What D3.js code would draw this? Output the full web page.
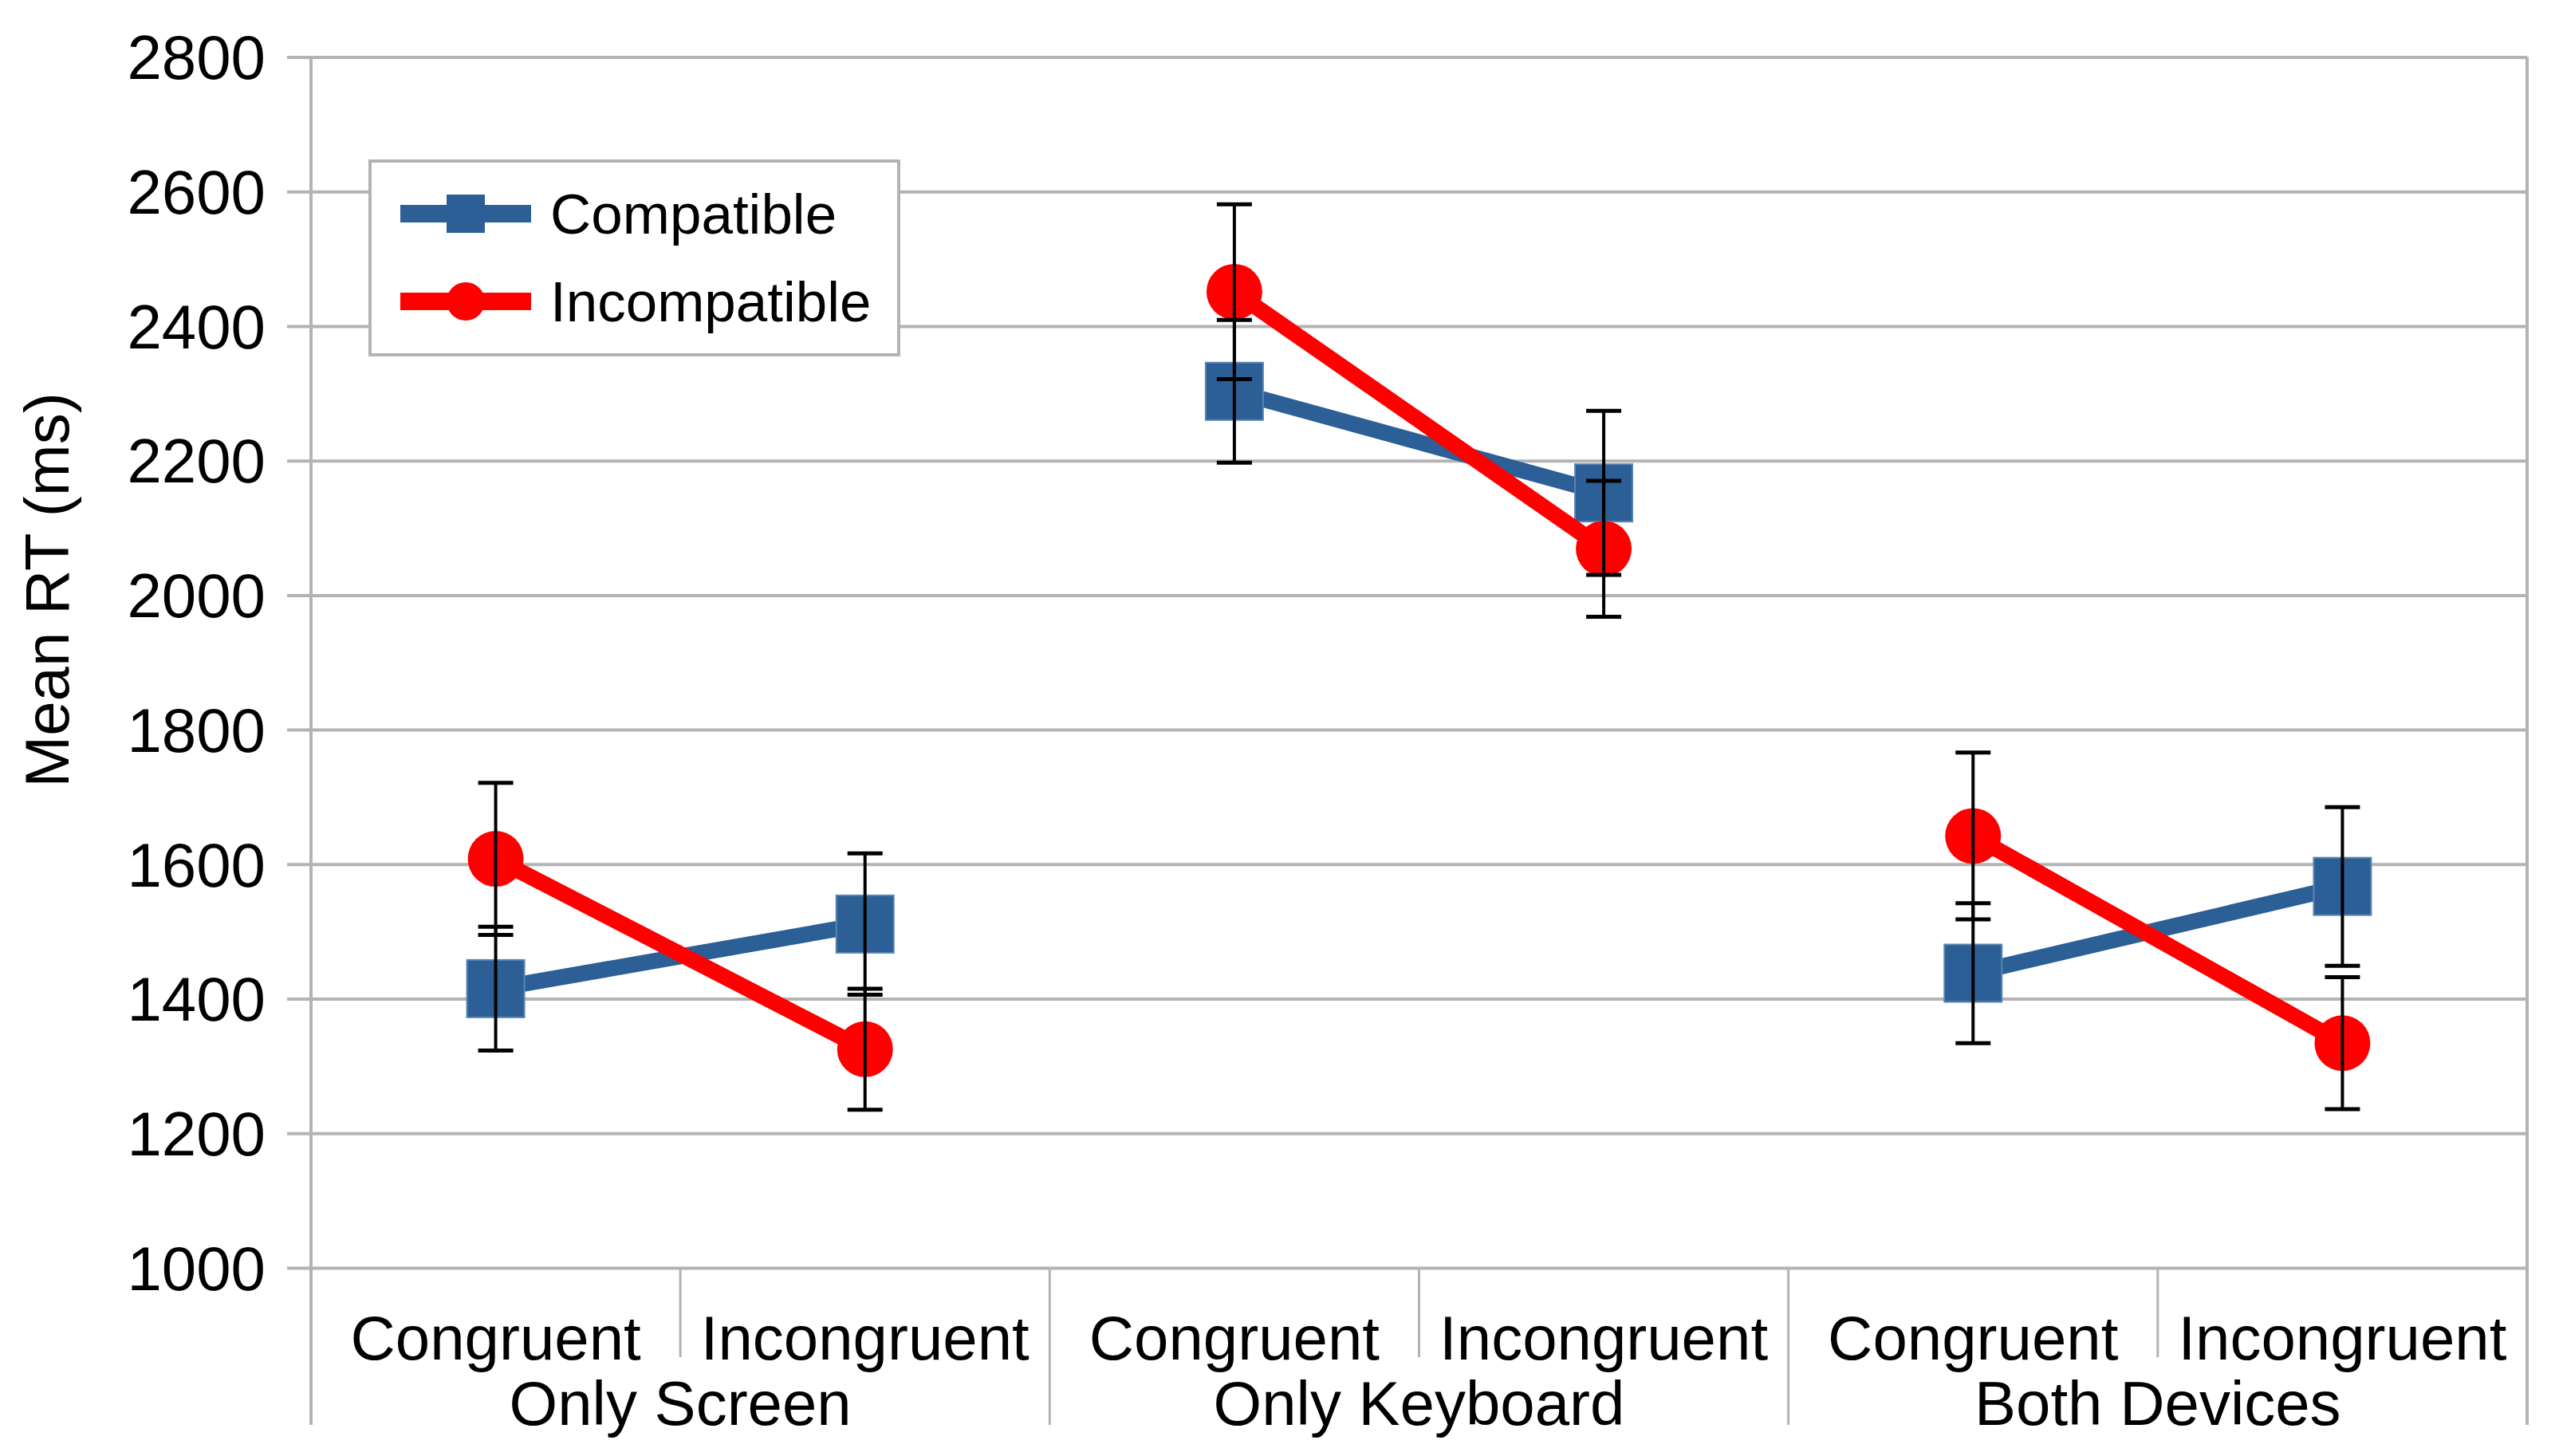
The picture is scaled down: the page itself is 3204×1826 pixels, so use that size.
<!DOCTYPE html>
<html>
<head>
<meta charset="utf-8">
<script src="https://cdn.jsdelivr.net/npm/d3@7"></script>
<style>
body { margin:0; background:#ffffff; }
text { font-family:"Liberation Sans", Arial, sans-serif; fill:#000000; }
</style>
</head>
<body>
<svg id="chart"></svg>
<script>
// categories of the x axis
var groups = ["Only Screen","Only Keyboard","Both Devices"];
var conditions = ["Congruent","Incongruent"];
var yTicks = [1000,1200,1400,1600,1800,2000,2200,2400,2600,2800];

// mean RT per group/condition, in order of the x axis
var compatible = [1415,1511,2303,2152,1438,1567];
var compatibleErr = [92,105,106,122,104,118];
var incompatible = [1608,1325,2451,2069,1642,1334];
var incompatibleErr = [113,90,130,101,124,98];

var seriesNames = ["Compatible","Incompatible"];
var seriesColors = ["#2c5f96","#ff0000"];

var screen = {width:3204, height:1826};
var margins = {top:71.5, left:390, right:35, bottom:236};
var graph = {
    width:screen.width-margins.left-margins.right,
    height:screen.height-margins.top-margins.bottom
};
var gridColor = "#b3b3b3";

var svg = d3.select("#chart")
    .attr("width",screen.width)
    .attr("height",screen.height);

// one key per point along the x axis
var keys = [];
groups.forEach(function(g){
    conditions.forEach(function(c){ keys.push(g+"|"+c); });
});

var xScale = d3.scaleBand()
    .domain(keys)
    .range([0,graph.width]);
var yScale = d3.scaleLinear()
    .domain([1000,2800])
    .range([graph.height,0]);
var cx = function(i){ return xScale(keys[i])+xScale.bandwidth()/2; };

var g = svg.append("g")
    .attr("transform","translate("+margins.left+","+margins.top+")");

// horizontal grid lines plus little ticks left of the axis
var yAxis = d3.axisLeft(yScale)
    .tickValues(yTicks)
    .tickSize(-graph.width)
    .tickPadding(57)
    .tickFormat(d3.format("d"));
var ya = g.append("g").call(yAxis);
ya.select(".domain").remove();
ya.selectAll(".tick line")
    .attr("x1",-30)
    .attr("stroke",gridColor)
    .attr("stroke-width",4);
ya.selectAll(".tick text")
    .style("font-size","78px")
    .attr("dy","0.35em");

// axis frame lines (left and right run down through the label area)
var bottomEdge = 1787-margins.top;
[0,graph.width].forEach(function(x){
    g.append("line")
        .attr("x1",x).attr("x2",x)
        .attr("y1",0).attr("y2",bottomEdge)
        .attr("stroke",gridColor).attr("stroke-width",4);
});

// separators under the x axis
keys.forEach(function(k,i){
    if(i==0) return;
    g.append("line")
        .attr("x1",xScale(k)).attr("x2",xScale(k))
        .attr("y1",graph.height)
        .attr("y2",i%2==0 ? bottomEdge : 1702-margins.top)
        .attr("stroke",gridColor).attr("stroke-width",3);
});

// condition labels and group labels
g.selectAll(".cond")
    .data(keys)
    .enter()
    .append("text")
    .attr("x",function(d,i){ return cx(i); })
    .attr("y",1705-margins.top)
    .attr("text-anchor","middle")
    .style("font-size","78px")
    .text(function(d){ return d.split("|")[1]; });

g.selectAll(".grp")
    .data(groups)
    .enter()
    .append("text")
    .attr("x",function(d,i){ return xScale(keys[i*2])+xScale.bandwidth(); })
    .attr("y",1787-margins.top)
    .attr("text-anchor","middle")
    .style("font-size","78px")
    .text(function(d){ return d; });

// y axis title
svg.append("text")
    .attr("transform","translate(86,740) rotate(-90)")
    .attr("text-anchor","middle")
    .style("font-size","78px")
    .text("Mean RT (ms)");

// draws the two line segments per group
var drawSeries = function(values,color)
{
    groups.forEach(function(grp,gi){
        var pair = values.slice(gi*2,gi*2+2);
        g.append("line")
            .attr("x1",cx(gi*2)).attr("x2",cx(gi*2+1))
            .attr("y1",yScale(pair[0])).attr("y2",yScale(pair[1]))
            .attr("stroke",color)
            .attr("stroke-width",20);
    });
}

drawSeries(compatible,seriesColors[0]);
g.selectAll(".sq")
    .data(compatible)
    .enter()
    .append("rect")
    .attr("x",function(d,i){ return cx(i)-36; })
    .attr("y",function(d){ return yScale(d)-36; })
    .attr("width",72).attr("height",72)
    .attr("fill",seriesColors[0])
    .attr("stroke","#5b84b1")
    .attr("stroke-width",2);

drawSeries(incompatible,seriesColors[1]);
g.selectAll(".dot")
    .data(incompatible)
    .enter()
    .append("ellipse")
    .attr("cx",function(d,i){ return cx(i); })
    .attr("cy",function(d){ return yScale(d); })
    .attr("rx",35).attr("ry",35)
    .attr("fill",seriesColors[1]);

// error bars go on top of the markers
var drawErrors = function(values,errs)
{
    values.forEach(function(v,i){
        var x = cx(i);
        var top = yScale(v+errs[i]);
        var bot = yScale(v-errs[i]);
        g.append("line")
            .attr("x1",x).attr("x2",x).attr("y1",top).attr("y2",bot)
            .attr("stroke","#000").attr("stroke-width",4);
        [top,bot].forEach(function(y){
            g.append("line")
                .attr("x1",x-22).attr("x2",x+22).attr("y1",y).attr("y2",y)
                .attr("stroke","#000").attr("stroke-width",5);
        });
    });
}
drawErrors(compatible,compatibleErr);
drawErrors(incompatible,incompatibleErr);

// legend
var legend = svg.append("g");
legend.append("rect")
    .attr("x",464).attr("y",202)
    .attr("width",663).attr("height",243)
    .attr("fill","#ffffff")
    .attr("stroke",gridColor)
    .attr("stroke-width",4);

seriesNames.forEach(function(name,i){
    var y = 268+i*110;
    legend.append("line")
        .attr("x1",502).attr("x2",666)
        .attr("y1",y).attr("y2",y)
        .attr("stroke",seriesColors[i])
        .attr("stroke-width",22);
    if(i==0){
        legend.append("rect")
            .attr("x",560).attr("y",y-24)
            .attr("width",48).attr("height",48)
            .attr("fill",seriesColors[i]);
    } else {
        legend.append("circle")
            .attr("cx",584).attr("cy",y)
            .attr("r",24)
            .attr("fill",seriesColors[i]);
    }
    legend.append("text")
        .attr("x",690)
        .attr("y",y+25)
        .style("font-size","71px")
        .text(name);
});
</script>
</body>
</html>
